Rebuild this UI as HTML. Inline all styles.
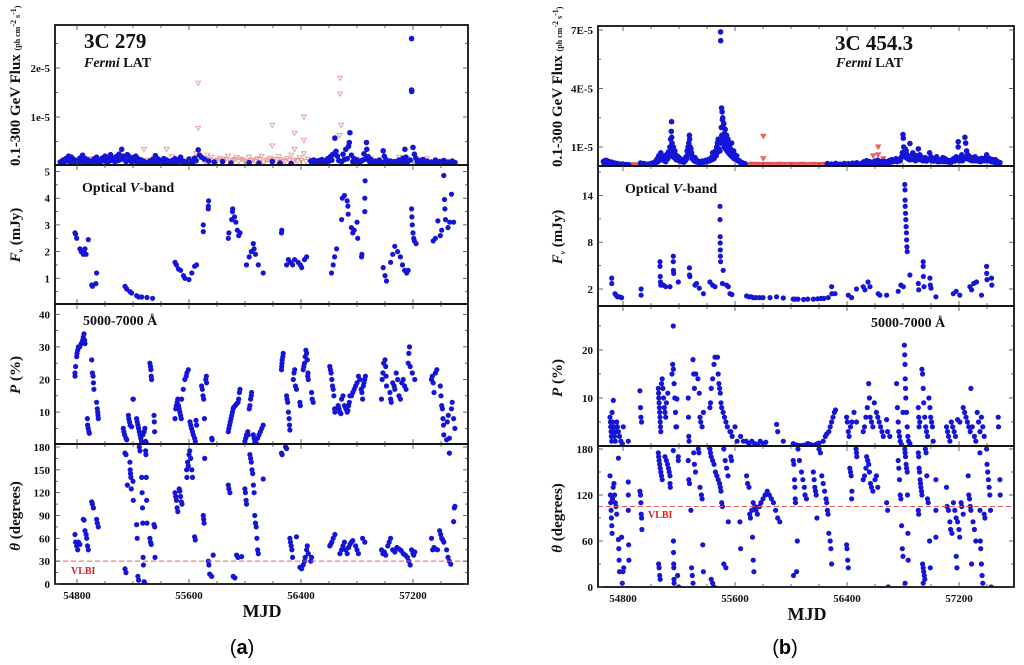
<!DOCTYPE html>
<html><head><meta charset="utf-8"><style>
html,body{margin:0;padding:0;background:#fff;}
svg{display:block;font-family:"Liberation Serif",serif;}
.tl{font-size:11px;font-weight:bold;fill:#111;}
.ttl{font-weight:bold;fill:#111;}
</style></head><body>
<svg id="fig" width="1024" height="665" viewBox="0 0 1024 665" xmlns="http://www.w3.org/2000/svg">
<g id="layer"></g>
<text class="ttl" x="84" y="48" font-size="21">3C 279</text>
<text class="ttl" x="84" y="67" font-size="14"><tspan font-style="italic">Fermi</tspan> LAT</text>
<text class="ttl" x="82" y="192" font-size="14">Optical <tspan font-style="italic">V</tspan>-band</text>
<text class="ttl" x="83" y="325" font-size="14">5000-7000 Å</text>
<text class="ttl" x="262" y="617" font-size="18" text-anchor="middle">MJD</text>
<text x="242" y="654" font-size="20" text-anchor="middle" font-family="Liberation Sans, sans-serif">(<tspan font-weight="bold">a</tspan>)</text>
<text class="ttl" x="835" y="50" font-size="21">3C 454.3</text>
<text class="ttl" x="836" y="67" font-size="14"><tspan font-style="italic">Fermi</tspan> LAT</text>
<text class="ttl" x="625" y="193" font-size="14">Optical <tspan font-style="italic">V</tspan>-band</text>
<text class="ttl" x="871" y="327" font-size="14">5000-7000 Å</text>
<text class="ttl" x="807" y="620" font-size="18" text-anchor="middle">MJD</text>
<text x="785" y="654" font-size="20" text-anchor="middle" font-family="Liberation Sans, sans-serif">(<tspan font-weight="bold">b</tspan>)</text>
<text class="ttl" transform="translate(20,166) rotate(-90)" font-size="15">0.1-300 GeV Flux <tspan font-size="8">(ph cm<tspan dy="-4">-2</tspan><tspan dy="4"> s</tspan><tspan dy="-4">-1</tspan><tspan dy="4">)</tspan></tspan></text>
<text class="ttl" transform="translate(20,235) rotate(-90)" font-size="15" text-anchor="middle"><tspan font-style="italic">F</tspan><tspan font-size="7" dy="3">ν</tspan><tspan dy="-3">  (mJy)</tspan></text>
<text class="ttl" transform="translate(20,375) rotate(-90)" font-size="15" text-anchor="middle"><tspan font-style="italic">P</tspan> (%)</text>
<text class="ttl" transform="translate(20,516) rotate(-90)" font-size="15" text-anchor="middle"><tspan font-style="italic">θ</tspan> (degrees)</text>
<text class="ttl" transform="translate(562,167) rotate(-90)" font-size="15">0.1-300 GeV Flux <tspan font-size="8">(ph cm<tspan dy="-4">-2</tspan><tspan dy="4"> s</tspan><tspan dy="-4">-1</tspan><tspan dy="4">)</tspan></tspan></text>
<text class="ttl" transform="translate(562,237) rotate(-90)" font-size="15" text-anchor="middle"><tspan font-style="italic">F</tspan><tspan font-size="7" dy="3">ν</tspan><tspan dy="-3">  (mJy)</tspan></text>
<text class="ttl" transform="translate(562,378) rotate(-90)" font-size="15" text-anchor="middle"><tspan font-style="italic">P</tspan> (%)</text>
<text class="ttl" transform="translate(562,518) rotate(-90)" font-size="15" text-anchor="middle"><tspan font-style="italic">θ</tspan> (degrees)</text>
</svg>
<script>
// ---------- DATA (MJD, value) ----------
const xMajorTicks = [54800, 55600, 56400, 57200];
const xMajorLabels = ["54800", "55600", "56400", "57200"];

// 3C 279 gamma (units 1e-6 ph cm-2 s-1)
const gA_det = [[54680,0.8],[54700,1.2],[54720,1.5],[54740,2.0],[54760,1.8],[54780,1.3],[54800,1.0],[54820,1.6],[54840,2.2],[54860,1.5],[54880,1.2],[54900,0.9],[54920,1.4],[54940,1.8],[54960,1.0],[54980,1.6],[55000,2.0],[55020,1.7],[55040,2.3],[55060,1.5],[55080,1.9],[55100,2.4],[55119,3.4],[55130,2.0],[55145,1.2],[55160,2.3],[55170,2.0],[55180,1.1],[55200,1.7],[55220,2.0],[55240,1.4],[55260,1.2],[55280,0.9],[55300,0.7],[55320,1.0],[55340,1.3],[55360,2.1],[55380,1.4],[55400,1.0],[55420,1.5],[55440,1.2],[55460,0.9],[55480,1.1],[55500,1.5],[55520,1.2],[55540,1.8],[55560,1.0],[55600,1.4],[55640,1.6],[55666,3.3],[55675,2.2],[55690,1.8],[55710,1.4],[55740,1.0],[55780,0.8],[55840,0.9],[55900,0.6],[56030,0.7],[56100,0.6],[56195,0.9],[56250,0.6],[56330,0.5],[56470,1.0],[56490,1.2],[56510,1.0],[56530,1.1],[56550,1.3],[56570,1.0],[56590,1.5],[56610,1.9],[56625,2.3],[56635,2.5],[56642,5.7],[56650,3.0],[56660,2.0],[56700,2.4],[56720,3.4],[56740,4.0],[56749,6.8],[56745,4.8],[56760,2.2],[56780,1.5],[56800,1.2],[56830,1.0],[56850,2.5],[56868,4.8],[56870,3.4],[56880,1.9],[56900,1.3],[56930,1.0],[56960,1.2],[56987,3.1],[56995,2.0],[57010,1.2],[57040,1.0],[57070,0.9],[57100,1.2],[57130,1.6],[57142,3.4],[57150,1.8],[57190,15.5],[57191,15.2],[57190,26.0],[57200,3.8],[57210,2.4],[57220,1.6],[57240,1.1],[57270,1.3],[57300,1.0],[57330,0.8],[57360,1.2],[57390,0.9],[57420,1.1],[57450,0.8],[57480,1.0],[57500,0.7],
[54690,0.6],[54710,0.9],[54730,1.1],[54750,0.8],[54770,1.0],[54790,0.6],[54810,0.8],[54830,1.0],[54850,0.7],[54870,0.9],[54890,0.6],[54910,0.8],[54930,1.0],[54950,0.7],[54970,0.9],[54990,1.1],[55010,0.8],[55030,1.0],[55050,1.2],[55070,0.9],[55090,1.1],[55110,1.3],[55150,0.9],[55190,0.8],[55210,1.0],[55230,0.8],[55250,0.7],[55270,0.6],[55290,0.5],[55310,0.6],[55330,0.7],[55350,0.8],[55370,0.9],[55390,0.7],[55410,0.8],[55430,0.6],[55450,0.7],[55470,0.6],[55490,0.8],[55510,0.9],[55530,1.0],[55550,0.9],[55570,0.8],[55590,0.7],[55610,0.8],[55630,0.9],[55650,1.1],[56480,0.6],[56500,0.7],[56520,0.6],[56540,0.8],[56560,0.7],[56580,0.9],[56600,1.0],[56620,1.2],[56670,1.1],[56690,0.9],[56710,1.3],[56730,1.5],[56770,0.9],[56790,0.8],[56810,0.7],[56820,0.9],[56840,1.2],[56860,1.4],[56890,0.9],[56910,0.7],[56940,0.8],[56970,0.7],[57000,0.9],[57020,0.8],[57050,0.7],[57080,0.8],[57110,0.7],[57140,0.9],[57160,0.8],[57180,1.2],[57230,0.8],[57250,0.7],[57280,0.6],[57310,0.7],[57340,0.6],[57370,0.7],[57400,0.6],[57430,0.7],[57460,0.6],[57490,0.6]];
const gA_ul = [[55666,16.9],[55666,7.7],[56195,8.3],[56195,4.1],[56354,6.7],[56354,3.4],[56421,10.0],[56421,5.2],[56680,17.9],[56680,14.7],[56687,8.3],[56675,6.2],[55278,3.4],[55440,3.4],[55620,1.5],[55650,2.5],[55700,1.2],[55730,2.2],[55760,1.8],[55790,1.0],[55820,1.6],[55850,1.3],[55880,2.0],[55910,1.1],[55940,1.7],[55970,1.4],[56000,1.0],[56030,1.8],[56060,1.2],[56090,1.5],[56120,2.0],[56150,1.1],[56180,1.6],[56210,1.3],[56240,1.9],[56270,1.0],[56300,1.5],[56330,2.2],[56360,1.2],[56390,1.7],[56420,2.5],[56450,1.4],[56480,1.1],[54900,1.5],[55050,1.8],[55200,1.5],[55350,1.6],[55480,1.9],[56700,2.0],[56900,1.6],[57100,1.8],[57300,1.5],
[55635,1.0],[55665,1.4],[55715,0.9],[55745,1.3],[55775,0.8],[55805,1.2],[55835,0.9],[55865,1.4],[55895,0.8],[55925,1.3],[55955,0.9],[55985,1.2],[56015,0.8],[56045,1.1],[56075,0.9],[56105,1.3],[56135,0.8],[56165,1.2],[56195,1.0],[56225,0.8],[56255,1.3],[56285,0.9],[56315,1.1],[56345,0.8],[56375,1.0],[56405,1.2],[56435,0.9],[54750,1.2],[54980,1.3],[55120,1.4],[55300,1.2],[56600,1.5],[56800,1.4],[57000,1.3],[57250,1.2],[57420,1.1]];

const oA = [[54786,2.7],[54790,2.65],[54798,2.5],[54821,2.1],[54830,2.0],[54845,1.9],[54850,2.0],[54857,2.1],[54865,1.9],[54881,2.45],[54905,0.75],[54910,0.7],[54935,0.8],[54940,1.2],[55143,0.7],[55155,0.6],[55178,0.5],[55190,0.45],[55226,0.35],[55240,0.3],[55262,0.3],[55300,0.28],[55340,0.25],[55500,1.6],[55510,1.5],[55524,1.35],[55540,1.3],[55560,1.1],[55571,1.0],[55600,0.95],[55620,1.2],[55640,1.45],[55654,1.5],[55702,2.75],[55702,3.0],[55738,3.6],[55738,3.7],[55740,3.9],[55881,2.5],[55885,2.7],[55905,3.2],[55910,3.5],[55912,3.6],[55925,3.3],[55935,3.1],[55945,2.8],[55955,2.6],[55964,2.7],[56011,1.5],[56030,1.8],[56045,2.0],[56059,2.3],[56065,2.1],[56075,1.9],[56095,1.5],[56130,1.2],[56261,2.7],[56263,2.8],[56297,1.5],[56310,1.7],[56325,1.6],[56340,1.5],[56355,1.7],[56380,1.6],[56395,1.5],[56405,1.4],[56425,1.7],[56440,1.8],[56618,1.2],[56630,1.5],[56640,1.8],[56654,2.1],[56690,3.2],[56695,4.0],[56710,4.1],[56730,3.9],[56735,3.7],[56737,3.4],[56760,2.9],[56770,2.7],[56780,2.8],[56800,3.1],[56805,2.5],[56833,1.8],[56835,1.9],[56856,3.5],[56856,4.0],[56858,4.65],[56987,1.4],[57000,1.1],[57011,0.9],[57040,1.6],[57055,1.9],[57070,2.2],[57090,2.0],[57110,1.8],[57125,1.5],[57140,1.3],[57155,1.2],[57166,1.3],[57190,3.6],[57192,3.3],[57195,3.0],[57200,2.7],[57205,2.5],[57210,2.4],[57222,2.3],[57344,2.4],[57360,2.5],[57378,3.15],[57395,2.6],[57405,2.8],[57420,4.85],[57425,3.95],[57428,3.6],[57432,3.2],[57450,2.9],[57462,3.1],[57475,4.15],[57490,3.1]];

const pA = [[54786,21],[54786,22],[54790,24],[54798,27],[54800,28],[54805,29],[54810,30],[54820,30],[54830,31],[54840,32],[54845,33],[54850,34],[54855,32],[54857,31],[54874,8],[54876,6],[54880,5],[54885,4],[54888,3.5],[54905,26],[54910,22],[54915,21],[54917,19],[54921,17],[54940,13],[54945,11],[54948,10],[54950,9],[54952,8],[55131,5],[55135,4],[55140,3],[55150,2],[55155,1.5],[55167,9],[55170,8],[55175,7],[55180,6],[55190,5.5],[55200,14],[55202,14],[55226,8],[55230,7],[55235,6],[55240,5],[55245,4],[55250,3],[55255,2],[55260,1],[55270,3],[55280,4],[55285,5],[55290,1],[55295,0.5],[55297,0],[55321,25],[55325,24],[55328,23],[55330,21],[55333,20],[55350,9],[55352,7],[55354,4],[55500,8],[55505,11],[55510,12],[55515,13],[55520,14],[55525,12],[55530,11],[55535,10],[55540,9],[55545,8],[55547,14],[55559,17],[55570,20],[55580,21],[55585,22],[55595,23],[55607,7],[55612,6],[55618,5],[55625,4],[55631,3],[55640,2],[55645,1],[55650,7.5],[55654,6],[55690,18],[55695,17],[55700,15],[55705,14],[55710,8],[55720,20],[55724,21],[55726,19],[55762,2],[55766,1.5],[55881,4],[55885,5],[55890,6],[55895,7],[55900,8],[55905,9],[55910,10],[55915,11],[55920,11.5],[55930,12],[55940,12.5],[55950,13],[55955,14],[55960,16],[55964,17],[55999,1],[56005,2],[56011,3],[56020,4],[56023,3],[56030,11],[56035,12],[56040,14],[56045,15],[56047,16],[56059,3],[56065,2],[56070,1],[56080,0.5],[56090,2],[56100,3],[56110,4],[56120,5],[56130,6],[56261,23],[56262,24],[56264,25],[56266,26],[56270,27],[56273,28],[56297,15],[56300,14],[56305,13],[56310,10],[56315,8],[56318,6],[56321,4.5],[56345,20],[56350,22],[56355,23],[56360,18],[56368,17],[56392,13],[56395,12],[56416,23],[56420,24],[56425,25],[56430,27],[56435,29],[56440,28],[56445,26],[56450,22],[56452,20],[56448,21],[56476,16],[56480,14],[56487,13],[56606,24],[56610,23],[56615,22],[56620,20],[56625,18],[56630,17],[56635,15],[56640,11],[56642,10],[56666,12],[56672,11],[56678,10],[56685,9.5],[56690,14],[56700,15],[56710,12],[56720,11],[56730,10],[56735,10.5],[56740,12],[56745,13],[56749,15],[56761,15],[56770,16],[56780,17],[56790,18],[56800,19],[56810,21],[56820,20],[56830,17],[56835,16],[56840,14],[56845,18],[56850,19],[56855,20],[56860,21],[56975,14],[56980,20],[56985,22],[56990,25],[57000,26],[57005,24],[57008,21],[57011,18],[57035,16],[57040,14],[57045,13],[57055,19],[57065,18],[57070,17],[57080,22],[57090,20],[57100,15],[57110,14],[57120,19],[57130,20],[57140,18],[57150,17],[57166,25],[57170,28],[57175,30],[57180,24],[57195,22],[57213,20],[57332,20],[57338,21],[57344,19],[57350,16],[57360,22],[57370,23],[57395,18],[57400,15],[57405,12],[57410,11],[57414,8],[57418,6],[57420,3],[57440,1.5],[57445,7],[57452,9],[57460,2],[57475,11],[57480,13],[57490,8],[57499,5]];

const tA = [[54786,65],[54790,55],[54798,50],[54805,45],[54810,55],[54821,52],[54845,85],[54850,84],[54857,70],[54865,65],[54869,60],[54875,50],[54881,45],[54905,108],[54910,105],[54917,100],[54940,85],[54945,80],[54952,75],[55143,20],[55150,15],[55143,172],[55150,170],[55160,130],[55178,160],[55180,150],[55182,145],[55185,140],[55188,125],[55200,135],[55202,110],[55226,78],[55230,60],[55235,10],[55240,5],[55245,180],[55250,175],[55262,140],[55265,120],[55268,100],[55270,80],[55272,35],[55274,25],[55280,3],[55285,0],[55290,175],[55292,170],[55295,140],[55297,110],[55300,80],[55321,60],[55325,55],[55330,52],[55350,78],[55355,75],[55357,35],[55500,120],[55505,115],[55510,110],[55515,100],[55520,95],[55530,125],[55535,122],[55540,115],[55545,108],[55550,105],[55583,150],[55585,140],[55590,160],[55595,155],[55600,170],[55605,175],[55612,165],[55620,150],[55625,140],[55640,62],[55645,58],[55702,90],[55705,85],[55708,80],[55712,165],[55738,30],[55742,25],[55748,13],[55762,10],[55773,38],[55881,130],[55885,125],[55892,120],[55916,10],[55928,8],[55940,38],[55950,35],[55976,36],[55999,125],[56003,120],[56008,110],[56011,105],[56035,170],[56040,165],[56045,160],[56050,150],[56055,145],[56060,130],[56065,120],[56070,90],[56075,80],[56080,75],[56085,60],[56090,45],[56095,40],[56130,138],[56261,172],[56265,170],[56290,180],[56297,178],[56321,60],[56325,55],[56330,50],[56335,45],[56340,35],[56368,62],[56392,22],[56404,20],[56416,25],[56425,30],[56430,35],[56440,45],[56445,50],[56452,40],[56470,30],[56476,35],[56606,50],[56612,52],[56620,55],[56630,60],[56642,65],[56678,40],[56690,45],[56700,50],[56710,55],[56720,45],[56730,40],[56740,48],[56750,52],[56760,55],[56770,57],[56790,50],[56800,45],[56810,40],[56840,60],[56856,55],[56975,45],[56985,40],[56995,42],[57005,38],[57020,50],[57030,55],[57040,60],[57055,45],[57070,42],[57085,48],[57100,46],[57115,44],[57130,40],[57145,38],[57160,35],[57170,30],[57180,25],[57190,45],[57200,40],[57205,38],[57213,42],[57332,60],[57340,45],[57350,48],[57360,46],[57375,45],[57390,70],[57398,65],[57405,60],[57412,58],[57420,55],[57440,45],[57450,35],[57460,30],[57470,26],[57460,172],[57490,82],[57495,100],[57499,102]];

const gB_det = [[54660,2.5],[54670,3.0],[54680,3.2],[54690,2.8],[54705,2.4],[54720,2.2],[54740,1.8],[54760,1.5],[54780,1.3],[54800,1.2],[54820,1.0],[54840,0.9],[54925,1.8],[54950,1.5],[54980,1.3],[55000,1.6],[55020,2.0],[55035,2.8],[55045,4.0],[55055,5.5],[55062,4.5],[55070,7.0],[55080,5.5],[55090,5.0],[55100,4.0],[55110,6.0],[55125,7.5],[55135,10],[55140,14],[55145,18],[55147,23],[55148,15],[55150,12],[55155,9],[55160,10],[55165,7],[55170,8],[55175,6],[55185,5.5],[55195,5],[55210,4],[55225,3],[55240,3.5],[55250,5],[55258,8],[55265,10],[55270,12],[55274,16],[55276,14],[55280,10],[55285,9],[55290,7],[55300,5],[55315,4.5],[55330,3],[55350,2.5],[55370,2.8],[55390,3.2],[55410,3.5],[55430,4.5],[55440,7],[55455,6],[55462,8],[55469,10],[55475,12],[55480,14],[55488,13],[55495,12],[55497,69],[55498,64.5],[55504,30],[55508,28],[55510,24],[55512,25],[55516,20],[55520,22],[55525,17],[55530,19],[55535,15],[55540,16],[55545,12],[55550,14],[55555,10],[55560,11],[55568,9],[55576,12],[55582,7],[55590,8],[55600,6],[55612,5.5],[55630,3],[55650,2],[55670,1.5],[56260,1.5],[56290,1.3],[56320,1.6],[56350,1.2],[56380,1.5],[56410,1.4],[56440,1.7],[56470,1.9],[56500,1.5],[56520,2.4],[56540,3.0],[56560,2.5],[56580,2.2],[56600,2.8],[56620,3.2],[56640,2.6],[56660,2.7],[56680,2.4],[56700,3.0],[56720,3.5],[56740,3.2],[56750,4.0],[56770,3.5],[56790,5.0],[56795,7],[56800,16.4],[56802,14.5],[56805,10],[56810,7],[56815,9],[56822,8],[56830,6],[56840,5],[56849,11.8],[56860,5.5],[56870,7],[56885,4.5],[56895,5.5],[56909,9],[56920,6],[56930,5],[56945,4],[56960,4.5],[56975,3.5],[56990,7],[57000,5],[57010,4],[57025,3.8],[57040,5],[57055,3],[57070,3.5],[57085,4.5],[57100,4],[57120,3.2],[57135,3],[57160,4],[57180,5],[57194,12.7],[57194,10],[57205,4.5],[57220,6],[57230,5],[57242,15],[57248,12],[57254,8],[57262,6],[57270,5.5],[57285,4.5],[57300,4.5],[57315,5],[57330,4],[57345,3.5],[57360,4.2],[57380,4],[57397,6],[57405,4.5],[57420,4],[57440,3.5],[57460,3.5],[57475,2.5],[57492,2.0],
[54665,1.8],[54675,2.0],[54695,1.9],[54710,1.6],[54730,1.3],[54750,1.0],[54770,0.9],[54790,0.8],[54810,0.7],[54830,0.6],[54935,0.9],[54965,1.0],[54990,0.9],[55010,1.1],[55030,1.4],[55050,2.5],[55075,3.5],[55095,3.0],[55105,2.5],[55120,4],[55130,6],[55143,8],[55152,6],[55158,5],[55168,4.5],[55180,3.5],[55200,3],[55218,2.5],[55235,2.2],[55245,3],[55255,4],[55262,6],[55268,7],[55278,8],[55283,6],[55295,4],[55308,3],[55320,2.5],[55340,2],[55360,2],[55380,2.2],[55400,2.4],[55420,3],[55435,3.5],[55450,4],[55465,5.5],[55472,7],[55485,9],[55492,8],[55502,20],[55506,16],[55514,14],[55518,12],[55523,10],[55528,13],[55533,9],[55538,11],[55543,8],[55548,9],[55553,7],[55558,8],[55565,6],[55572,7],[55580,5],[55588,5],[55595,4],[55605,4],[55620,3],[55640,2],[55660,1.2],[56270,0.9],[56300,0.8],[56330,1.0],[56360,0.8],[56390,0.9],[56420,1.0],[56450,1.1],[56480,1.2],[56510,1.0],[56530,1.5],[56550,1.8],[56570,1.5],[56590,1.7],[56610,2.0],[56630,1.8],[56650,1.6],[56670,1.9],[56690,2.0],[56710,2.2],[56730,2.5],[56760,2.5],[56780,3.0],[56808,5],[56818,5],[56825,4.5],[56835,4],[56845,3.5],[56855,3.5],[56865,4],[56878,3.5],[56890,3],[56900,3.5],[56915,4],[56925,3.5],[56940,3],[56955,3],[56968,2.8],[56982,3.5],[56995,3.5],[57005,3],[57018,2.8],[57032,3],[57048,2.5],[57062,2.5],[57078,2.8],[57092,2.5],[57110,2.5],[57128,2.2],[57145,2.2],[57170,2.8],[57188,3.5],[57200,3],[57212,3],[57225,3],[57236,4],[57258,4],[57275,3.5],[57292,3],[57308,3],[57322,3],[57338,2.8],[57352,2.5],[57370,3],[57388,3],[57412,3],[57430,2.5],[57450,2.2],[57468,2],[57485,1.5]];
const gB_ul = [[54850,0.8],[54865,0.6],[54880,0.9],[54895,0.7],[54910,0.8],[55680,1.0],[55700,0.8],[55720,1.2],[55740,0.9],[55760,1.1],[55780,0.8],[55800,1.0],[55820,0.9],[55840,1.1],[55860,0.8],[55880,1.0],[55900,0.9],[55920,1.2],[55940,0.8],[55960,1.0],[55980,0.9],[56000,1.1],[56020,0.8],[56040,1.0],[56060,0.9],[56080,1.2],[56100,0.8],[56120,1.0],[56140,0.9],[56160,1.1],[56180,0.8],[56200,1.0],[56220,0.9],[56240,1.1],[55690,0.7],[55710,0.6],[55730,0.8],[55750,0.6],[55770,0.7],[55790,0.6],[55810,0.7],[55830,0.6],[55850,0.7],[55870,0.6],[55890,0.7],[55910,0.6],[55930,0.7],[55950,0.6],[55970,0.7],[55990,0.6],[56010,0.7],[56030,0.6],[56050,0.7],[56070,0.6],[56090,0.7],[56110,0.6],[56130,0.7],[56150,0.6],[56170,0.7],[56190,0.6],[56210,0.7],[56230,0.6],[56250,0.7],[55802,15.5],[55802,4.0],[56587,5.5],[56623,10.0],[56623,6.0],[56660,4.0],[56700,2.0]];

const oB = [[54719,3.4],[54720,2.7],[54743,1.4],[54750,1.2],[54760,1.0],[54775,1.0],[54790,0.9],[54929,2.0],[54929,1.2],[55064,5.5],[55064,4.9],[55066,3.6],[55068,2.9],[55070,2.5],[55088,2.5],[55105,2.3],[55136,2.3],[55159,6.2],[55159,5.5],[55160,4.4],[55162,4.0],[55195,2.9],[55274,4.7],[55275,3.8],[55278,3.6],[55314,2.5],[55325,2.7],[55345,2.1],[55374,1.4],[55421,2.9],[55440,2.5],[55457,2.3],[55493,12.6],[55493,10.9],[55494,8.7],[55494,7.9],[55495,7.0],[55496,6.2],[55497,5.5],[55516,4.4],[55510,2.7],[55540,2.5],[55552,2.3],[55564,1.4],[55578,1.3],[55683,1.1],[55700,1.0],[55715,1.0],[55730,0.9],[55750,0.9],[55775,0.9],[55800,0.9],[55850,0.9],[55897,1.0],[55945,0.85],[56016,0.7],[56030,0.7],[56050,0.7],[56090,0.65],[56120,0.7],[56160,0.7],[56190,0.75],[56215,0.8],[56235,0.8],[56266,0.9],[56290,2.3],[56292,1.4],[56314,1.4],[56409,1.2],[56433,0.9],[56468,2.0],[56516,2.3],[56528,1.9],[56550,2.9],[56564,2.3],[56623,1.4],[56635,1.2],[56683,1.2],[56766,1.7],[56785,2.5],[56802,2.3],[56813,15.4],[56814,14.7],[56815,13.4],[56816,12.6],[56818,11.7],[56820,10.9],[56822,10.0],[56824,9.2],[56826,8.3],[56828,7.4],[56830,6.8],[56849,3.8],[56909,2.7],[56912,1.9],[56944,5.5],[56944,4.9],[56946,3.6],[56950,2.3],[56992,3.4],[56995,2.5],[57000,2.1],[57035,1.0],[57159,1.4],[57180,1.7],[57206,1.2],[57278,2.3],[57290,1.9],[57305,2.7],[57325,2.9],[57361,1.2],[57397,4.9],[57398,4.0],[57400,3.2],[57432,3.4],[57434,2.5]];

const pB = [[54707,6],[54710,5],[54712,4],[54715,3],[54717,2],[54719,1],[54722,7],[54725,5],[54728,3],[54731,9.5],[54735,4],[54740,2],[54745,1],[54750,3],[54755,5],[54760,4],[54767,3],[54775,2],[54785,1],[54795,0.5],[54802,4],[54838,1],[54921,11.5],[54925,8],[54928,6],[54933,5],[55052,12],[55054,11],[55056,10],[55058,9],[55060,8],[55062,7],[55064,6],[55066,5],[55068,4],[55070,3],[55075,13],[55080,14],[55085,12],[55090,10],[55095,8],[55100,7],[55105,6],[55110,9],[55120,11],[55150,15],[55155,17],[55160,16],[55165,13],[55170,10],[55175,7],[55178,4],[55183,4],[55185,9.8],[55159,25],[55266,10],[55268,6],[55270,2],[55272,1],[55300,18],[55305,15],[55310,12],[55320,15],[55335,14],[55345,11],[55350,6],[55355,5],[55365,4],[55374,7],[55421,8],[55425,9],[55430,12],[55440,14],[55450,17],[55457,18.5],[55475,18.5],[55480,15],[55485,13],[55490,12],[55495,11],[55500,9],[55505,8],[55515,7],[55525,6],[55535,5],[55545,4],[55564,3],[55570,3],[55580,2],[55600,4],[55615,1],[55640,2],[55660,1],[55680,1],[55700,0.5],[55720,1],[55740,0.5],[55760,0.3],[55780,1],[55800,0.5],[55820,0.8],[55897,4.5],[55905,3],[55945,1],[56016,0.5],[56025,0.3],[56040,0.2],[56060,0.1],[56080,0.1],[56100,0.2],[56120,0.5],[56140,0.3],[56160,0.1],[56175,0.3],[56190,0.5],[56200,0.6],[56230,1],[56245,2],[56255,2.5],[56270,3],[56280,4],[56290,5],[56300,6],[56310,7],[56318,7.5],[56397,6],[56402,5],[56409,3],[56415,2],[56425,4],[56435,5],[56450,7],[56468,5],[56516,3],[56525,4],[56535,6],[56545,8],[56555,13],[56560,10],[56566,6],[56575,5],[56585,4],[56595,9],[56610,7],[56620,6],[56630,5],[56640,4],[56650,3],[56659,2],[56683,5.5],[56690,3],[56706,2],[56754,13],[56760,8],[56766,5],[56770,3],[56775,2],[56780,1],[56790,0.3],[56800,7],[56810,21],[56812,19],[56814,17],[56816,14],[56818,12],[56820,10],[56825,7],[56830,4],[56835,2],[56840,1],[56849,0.5],[56909,8],[56912,6],[56915,4],[56920,5],[56935,16],[56940,15],[56944,12],[56948,9],[56955,6],[56962,4],[56968,3],[56975,2],[56985,10],[56992,8],[56998,6],[57004,5],[57010,4],[57016,1],[57111,4],[57118,3],[57125,2],[57135,1],[57145,5],[57155,4],[57165,3],[57175,2],[57190,5.5],[57206,5],[57230,8],[57240,7],[57250,6],[57260,5],[57270,4],[57280,3],[57285,12],[57295,4],[57310,2],[57320,1],[57330,7],[57340,5],[57350,3],[57360,6],[57370,4],[57380,2],[57480,6],[57482,4]];

const tB = [[54707,145],[54710,120],[54712,110],[54715,100],[54717,90],[54720,80],[54722,70],[54725,115],[54730,130],[54735,135],[54740,120],[54745,110],[54750,105],[54755,95],[54767,168],[54767,62],[54770,50],[54772,35],[54775,20],[54790,65],[54795,5],[54800,20],[54805,25],[54838,137],[54838,120],[54838,100],[54840,55],[54842,35],[54921,125],[54925,120],[54928,110],[54930,95],[54933,90],[54935,75],[55052,175],[55055,170],[55058,165],[55062,160],[55066,155],[55070,150],[55075,145],[55080,140],[55054,30],[55058,25],[55062,15],[55066,10],[55100,170],[55110,165],[55118,160],[55125,155],[55130,150],[55136,145],[55136,135],[55138,130],[55159,178],[55160,60],[55161,45],[55162,30],[55163,25],[55164,10],[55165,5],[55195,170],[55195,165],[55190,15],[55198,0],[55266,165],[55270,140],[55275,135],[55285,100],[55290,25],[55295,15],[55300,5],[55305,175],[55310,160],[55318,150],[55338,180],[55342,175],[55350,130],[55360,120],[55365,115],[55370,55],[55374,20],[55421,180],[55425,175],[55430,170],[55440,165],[55450,160],[55460,150],[55470,145],[55480,140],[55490,135],[55495,130],[55500,125],[55505,110],[55510,105],[55520,180],[55530,165],[55540,155],[55550,145],[55430,10],[55440,5],[55450,0],[55520,30],[55535,25],[55552,85],[55570,170],[55575,165],[55635,85],[55640,50],[55683,145],[55690,135],[55700,130],[55705,95],[55710,90],[55720,100],[55730,110],[55740,105],[55750,100],[55760,95],[55775,105],[55785,110],[55800,115],[55815,120],[55830,125],[55845,120],[55860,115],[55875,110],[55890,100],[55905,90],[55920,85],[55725,65],[55730,35],[55735,20],[56016,165],[56020,160],[56025,140],[56028,130],[56030,115],[56032,110],[56018,15],[56040,20],[56045,60],[56050,180],[56060,165],[56075,150],[56085,140],[56095,130],[56100,120],[56111,115],[56159,150],[56165,140],[56170,130],[56175,125],[56180,120],[56185,90],[56200,180],[56210,175],[56220,145],[56230,135],[56240,125],[56250,115],[56255,110],[56260,100],[56265,95],[56270,70],[56280,60],[56285,50],[56290,30],[56397,55],[56400,50],[56405,35],[56409,25],[56420,155],[56425,150],[56430,145],[56435,125],[56433,115],[56465,180],[56468,175],[56470,170],[56516,140],[56525,145],[56535,155],[56540,170],[56548,165],[56555,160],[56560,150],[56568,135],[56575,130],[56585,125],[56600,140],[56610,145],[56620,130],[56683,110],[56690,100],[56694,0],[56766,165],[56770,155],[56775,140],[56780,120],[56785,115],[56790,80],[56795,50],[56800,40],[56813,180],[56815,175],[56818,170],[56822,160],[56826,155],[56830,150],[56832,120],[56835,70],[56837,35],[56815,5],[56909,175],[56912,170],[56915,155],[56918,150],[56922,140],[56925,135],[56928,130],[56932,125],[56935,120],[56909,100],[56912,95],[56940,30],[56944,25],[56948,20],[56952,15],[56956,10],[56944,5],[56960,180],[56965,175],[56970,145],[56975,115],[56980,110],[56990,60],[56995,25],[57035,140],[57035,100],[57035,65],[57111,130],[57115,105],[57125,100],[57135,85],[57140,75],[57150,70],[57160,110],[57170,100],[57180,90],[57190,85],[57180,40],[57185,25],[57200,75],[57205,65],[57215,110],[57220,105],[57230,95],[57266,145],[57270,120],[57275,115],[57280,105],[57285,100],[57290,30],[57300,85],[57310,75],[57320,60],[57349,175],[57350,100],[57352,60],[57355,50],[57360,30],[57365,15],[57370,5],[57380,95],[57385,90],[57397,180],[57400,160],[57405,150],[57410,140],[57415,130],[57420,120],[57425,100],[57430,0],[57492,140],[57494,120]];

const yTicksGA = [10, 20], yTickLabGA = ["1e-5", "2e-5"], yMinorGA = [5, 15, 25];
const yTicksOA = [1, 2, 3, 4, 5], yMinorOA = [0.5, 1.5, 2.5, 3.5, 4.5];
const yTicksPA = [10, 20, 30, 40], yMinorPA = [5, 15, 25, 35];
const yTicksTA = [0, 30, 60, 90, 120, 150, 180], yMinorTA = [15, 45, 75, 105, 135, 165];
const yTicksGB = [10, 40, 70], yTickLabGB = ["1E-5", "4E-5", "7E-5"], yMinorGB = [25, 55];
const yTicksOB = [2, 8, 14], yMinorOB = [5, 11, 17];
const yTicksPB = [10, 20], yMinorPB = [5, 15, 25];
const yTicksTB = [0, 60, 120, 180], yMinorTB = [30, 90, 150];
const vlbiA = 30, vlbiB = 105;

// ---------- RENDERING ----------
const NS = "http://www.w3.org/2000/svg";
const layer = document.getElementById("layer");
function mk(tag, attrs) { const e = document.createElementNS(NS, tag); for (const k in attrs) e.setAttribute(k, attrs[k]); layer.appendChild(e); return e; }
function lin(d0, d1, r0, r1) { return v => r0 + (v - d0) * (r1 - r0) / (d1 - d0); }

const sides = {
  a: { x0: 55, x1: 468, xs: lin(54800, 57200, 77, 413), labX: 50 },
  b: { x0: 598, x1: 1014, xs: lin(54800, 57200, 623, 959), labX: 593 }
};
const panels = [
  { id: "gamma-a", s: "a", t: 25, b: 165, ys: lin(0, 10, 166, 117), ticks: yTicksGA, labs: yTickLabGA, minor: yMinorGA },
  { id: "optical-a", s: "a", t: 165, b: 304, ys: lin(0, 5, 305, 171.5), ticks: yTicksOA, labs: null, minor: yMinorOA },
  { id: "pol-a", s: "a", t: 304, b: 444, ys: lin(0, 40, 444.7, 314.3), ticks: yTicksPA, labs: null, minor: yMinorPA },
  { id: "angle-a", s: "a", t: 444, b: 584, ys: lin(0, 180, 584, 447), ticks: yTicksTA, labs: null, minor: yMinorTA },
  { id: "gamma-b", s: "b", t: 26, b: 166, ys: lin(0, 10, 166.5, 147), ticks: yTicksGB, labs: yTickLabGB, minor: yMinorGB },
  { id: "optical-b", s: "b", t: 166, b: 306, ys: lin(0, 2, 304.6, 289), ticks: yTicksOB, labs: null, minor: yMinorOB },
  { id: "pol-b", s: "b", t: 306, b: 446, ys: lin(0, 10, 446, 398), ticks: yTicksPB, labs: null, minor: yMinorPB },
  { id: "angle-b", s: "b", t: 446, b: 587, ys: lin(0, 180, 587, 449), ticks: yTicksTB, labs: null, minor: yMinorTB }
];
const P = {}; panels.forEach(p => P[p.id] = p);

panels.forEach(p => {
  const S = sides[p.s];
  const cp = mk("clipPath", { id: "clip-" + p.id });
  
  
  const r = document.createElementNS(NS, "rect");
  r.setAttribute("x", S.x0); r.setAttribute("y", p.t); r.setAttribute("width", S.x1 - S.x0); r.setAttribute("height", p.b - p.t);
  cp.appendChild(r);
});

function dots(pid, data, name, rad) {
  const p = P[pid], S = sides[p.s];
  const g = mk("g", { "clip-path": "url(#clip-" + pid + ")" });
  
  
  data.forEach(d => {
    const c = document.createElementNS(NS, "circle");
    c.setAttribute("cx", S.xs(d[0]).toFixed(1)); c.setAttribute("cy", p.ys(d[1]).toFixed(1));
    c.setAttribute("r", rad || 2.6); c.setAttribute("fill", "#1515d8");
    
    
    g.appendChild(c);
  });
}
function tris(pid, data, name, col, fill) {
  const p = P[pid], S = sides[p.s];
  const g = mk("g", { "clip-path": "url(#clip-" + pid + ")" });
  
  
  data.forEach(d => {
    const x = S.xs(d[0]), y = p.ys(d[1]);
    const t = document.createElementNS(NS, "polygon");
    t.setAttribute("points", (x - 2.4) + "," + (y - 2) + " " + (x + 2.4) + "," + (y - 2) + " " + x + "," + (y + 2.2));
    t.setAttribute("fill", fill); t.setAttribute("stroke", col); t.setAttribute("stroke-width", "0.9");
    
    
    g.appendChild(t);
  });
}

tris("gamma-a", gA_ul, "gamma-upper-limit-a", "#e89a9a", "none");
dots("gamma-a", gA_det, "gamma-flux-a", 2.8);
dots("optical-a", oA, "optical-flux-a");
dots("pol-a", pA, "pol-degree-a");
dots("angle-a", tA, "pol-angle-a");
tris("gamma-b", gB_ul, "gamma-upper-limit-b", "#e05050", "#f07070");
dots("gamma-b", gB_det, "gamma-flux-b", 2.8);
dots("optical-b", oB, "optical-flux-b");
dots("pol-b", pB, "pol-degree-b");
dots("angle-b", tB, "pol-angle-b");

[["a", "angle-a", vlbiA, 71, 574], ["b", "angle-b", vlbiB, 648, 518]].forEach(v => {
  const S = sides[v[0]], p = P[v[1]], y = p.ys(v[2]);
  const l = mk("line", { x1: S.x0, x2: S.x1, y1: y, y2: y, stroke: "#e06060", "stroke-width": 1, "stroke-dasharray": "5,3" });
  
  
  const t = mk("text", { x: v[3], y: v[4], fill: "#d42020", "font-size": 10, "font-weight": "bold" });
  t.textContent = "VLBI";
  
  
});

panels.forEach(p => {
  const S = sides[p.s];
  const fr = mk("rect", { x: S.x0, y: p.t, width: S.x1 - S.x0, height: p.b - p.t, fill: "none", stroke: "#111", "stroke-width": 1.8 });
  
  
  for (let m = 54600; m <= 57600; m += 200) {
    const x = S.xs(m); if (x < S.x0 + 1 || x > S.x1 - 1) continue;
    const major = xMajorTicks.indexOf(m) >= 0, len = major ? 5 : 3;
    const t1 = mk("line", { x1: x, x2: x, y1: p.b, y2: p.b - len, stroke: "#444", "stroke-width": 0.8 });
    
    
    const t2 = mk("line", { x1: x, x2: x, y1: p.t, y2: p.t + len, stroke: "#444", "stroke-width": 0.8 });
    
    
  }
  p.ticks.forEach((v, i) => {
    const y = p.ys(v);
    const a = mk("line", { x1: S.x0, x2: S.x0 + 5, y1: y, y2: y, stroke: "#444", "stroke-width": 0.8 });
    
    
    const b = mk("line", { x1: S.x1, x2: S.x1 - 5, y1: y, y2: y, stroke: "#444", "stroke-width": 0.8 });
    
    
    const t = mk("text", { x: S.labX, y: y + 4, "text-anchor": "end", class: "tl" });
    t.textContent = p.labs ? p.labs[i] : String(v);
    
    
  });
  p.minor.forEach(v => {
    const y = p.ys(v); if (y < p.t + 1 || y > p.b - 1) return;
    const a = mk("line", { x1: S.x0, x2: S.x0 + 3, y1: y, y2: y, stroke: "#444", "stroke-width": 0.8 });
    
    
    const b = mk("line", { x1: S.x1, x2: S.x1 - 3, y1: y, y2: y, stroke: "#444", "stroke-width": 0.8 });
    
    
  });
});
[["a", "angle-a"], ["b", "angle-b"]].forEach(q => {
  const S = sides[q[0]], p = P[q[1]];
  xMajorTicks.forEach((m, i) => {
    const t = mk("text", { x: S.xs(m), y: p.b + 15, "text-anchor": "middle", class: "tl", "font-size": 12 });
    t.textContent = xMajorLabels[i];
    
    
  });
});
</script>
</body></html>
